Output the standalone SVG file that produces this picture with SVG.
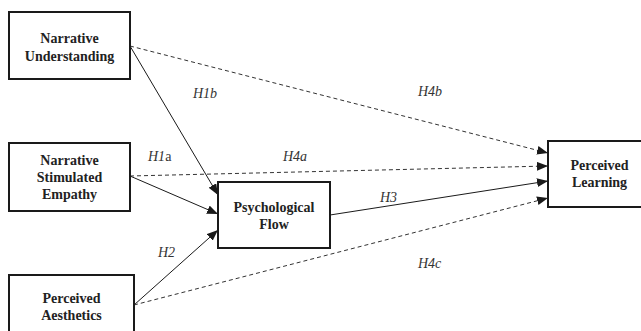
<svg xmlns="http://www.w3.org/2000/svg" width="641" height="331" viewBox="0 0 641 331">
<style>
.box{fill:#fff;stroke:#1a1a1a;stroke-width:2}
.t{font-family:"Liberation Serif","Times New Roman",serif;font-weight:bold;font-size:14px;fill:#222;text-anchor:middle}
.l{font-family:"Liberation Serif","Times New Roman",serif;font-style:italic;font-size:14px;fill:#333}
.s{stroke:#1a1a1a;stroke-width:1;fill:none}
.d{stroke:#333;stroke-width:1;fill:none;stroke-dasharray:4 3}
</style>
<defs>
<marker id="ah" viewBox="0 0 10 8" refX="10" refY="4" markerWidth="11" markerHeight="9" markerUnits="userSpaceOnUse" orient="auto">
<path d="M0,0 L10,4 L0,8 Z" fill="#1a1a1a"/>
</marker>
</defs>
<rect width="641" height="331" fill="#fff"/>
<g id="connectors">
<line class="d" x1="130" y1="46" x2="548" y2="153" marker-end="url(#ah)"/>
<line class="s" x1="130" y1="46" x2="218" y2="195" marker-end="url(#ah)"/>
<line class="d" x1="130" y1="176" x2="548" y2="166" marker-end="url(#ah)"/>
<line class="s" x1="130" y1="176" x2="218" y2="214" marker-end="url(#ah)"/>
<line class="s" x1="134" y1="305" x2="218" y2="230" marker-end="url(#ah)"/>
<line class="d" x1="134" y1="305" x2="548" y2="198" marker-end="url(#ah)"/>
<line class="s" x1="330" y1="215" x2="548" y2="181" marker-end="url(#ah)"/>
<text class="l" x="193" y="98">H1b</text>
<text class="l" x="418" y="96">H4b</text>
<text class="l" x="148" y="161">H1<tspan font-style="normal">a</tspan></text>
<text class="l" x="283" y="161">H4a</text>
<text class="l" x="380" y="202">H3</text>
<text class="l" x="158" y="257">H2</text>
<text class="l" x="418" y="268">H4c</text>
</g>
<g id="narrative-understanding">
<rect class="box" x="9" y="12" width="121" height="67"/>
<text class="t" x="69.5" y="43">Narrative</text>
<text class="t" x="69.5" y="61">Understanding</text>
</g>
<g id="narrative-stimulated-empathy">
<rect class="box" x="9" y="143" width="121" height="68"/>
<text class="t" x="69.5" y="165">Narrative</text>
<text class="t" x="69.5" y="182">Stimulated</text>
<text class="t" x="69.5" y="199">Empathy</text>
</g>
<g id="perceived-aesthetics">
<rect class="box" x="9" y="275" width="125" height="68"/>
<text class="t" x="71.5" y="303">Perceived</text>
<text class="t" x="71.5" y="320">Aesthetics</text>
</g>
<g id="psychological-flow">
<rect class="box" x="218" y="182" width="112" height="66"/>
<text class="t" x="274" y="212">Psychological</text>
<text class="t" x="274" y="229">Flow</text>
</g>
<g id="perceived-learning">
<rect class="box" x="548" y="141" width="103" height="66"/>
<text class="t" x="599.5" y="170">Perceived</text>
<text class="t" x="599.5" y="187">Learning</text>
</g>
</svg>
